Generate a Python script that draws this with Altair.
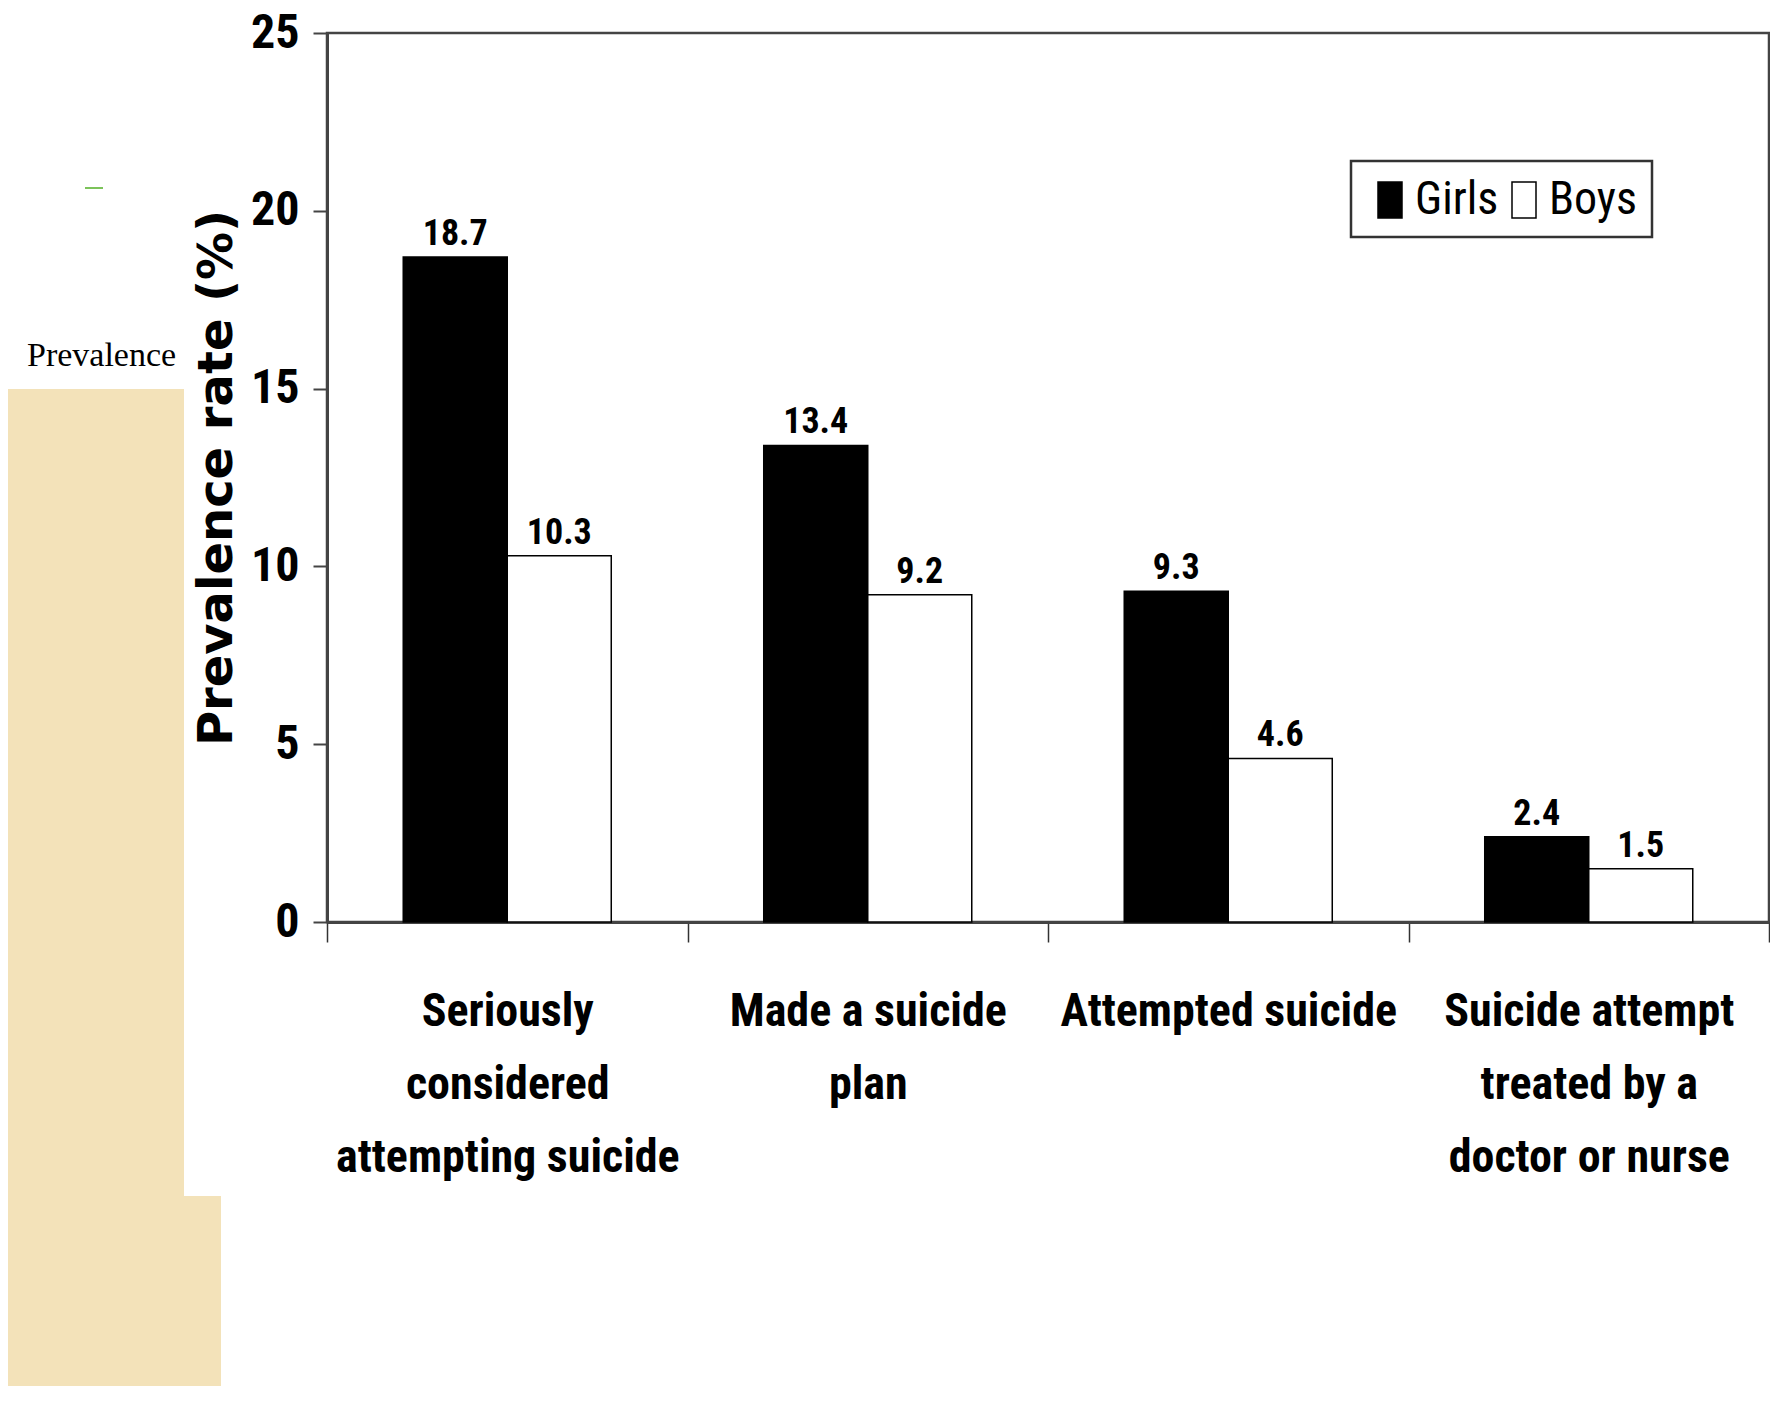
import altair as alt
import pandas as pd

categories = [
    "Seriously\nconsidered\nattempting suicide",
    "Made a suicide\nplan",
    "Attempted suicide",
    "Suicide attempt\ntreated by a\ndoctor or nurse",
]
groups = ["Girls", "Boys"]
girls = [18.7, 13.4, 9.3, 2.4]
boys = [10.3, 9.2, 4.6, 1.5]
y_ticks = [0, 5, 10, 15, 20, 25]

rows = []
for c, g, b in zip(categories, girls, boys):
    rows.append({"cat": c, "sex": "Girls", "val": g})
    rows.append({"cat": c, "sex": "Boys", "val": b})
df = pd.DataFrame(rows)

NARROW = "Liberation Sans Narrow, Roboto Condensed, DejaVu Sans Condensed, Arial Narrow, sans-serif"
W, H = 1442, 889

x_enc = alt.X(
    "cat:N",
    sort=categories,
    scale=alt.Scale(paddingInner=0, paddingOuter=0),
    axis=alt.Axis(
        title=None,
        labelAngle=0,
        labelExpr="split(datum.label, '\\n')",
        labelFont=NARROW,
        labelFontSize=46,
        labelFontWeight="bold",
        labelColor="black",
        labelLineHeight=73,
        labelPadding=47,
        labelLimit=0,
        labelOverlap=False,
        labelBound=False,
        tickBand="extent",
        tickSize=20,
        tickColor="#333",
        tickWidth=1.5,
        domainColor="#444",
        domainWidth=3,
    ),
)
xo_enc = alt.XOffset("sex:N", sort=groups, scale=alt.Scale(paddingInner=0, paddingOuter=0.733))
y_enc = alt.Y(
    "val:Q",
    scale=alt.Scale(domain=[0, 25], nice=False),
    axis=alt.Axis(
        values=y_ticks,
        title="Prevalence rate (%)",
        titleFont="DejaVu Sans",
        titleFontSize=48,
        titleFontWeight="bold",
        titleColor="black",
        titleX=-110,
        titleY=H / 2,
        titleAngle=270,
        titleAlign="center",
        titleBaseline="middle",
        labelFont=NARROW,
        labelFontSize=48,
        labelFontWeight="bold",
        labelColor="black",
        labelPadding=14,
        tickSize=14,
        tickColor="#444",
        tickWidth=2,
        domainColor="#444",
        domainWidth=3,
        grid=False,
    ),
)

bars = alt.Chart(df).mark_bar(stroke="black", strokeWidth=1.5).encode(
    x=x_enc,
    xOffset=xo_enc,
    y=y_enc,
    color=alt.Color(
        "sex:N",
        sort=groups,
        scale=alt.Scale(domain=groups, range=["black", "white"]),
        legend=alt.Legend(
            title=None,
            orient="none",
            legendX=1024,
            legendY=128,
            direction="horizontal",
            symbolType="M-0.5,-0.75L0.5,-0.75L0.5,0.75L-0.5,0.75Z",
            symbolSize=2304,
            symbolStrokeColor="black",
            symbolStrokeWidth=1.5,
            labelFont=NARROW,
            labelFontSize=46,
            labelColor="black",
            labelOffset=0,
            columnPadding=0,
            padding=14,
            strokeColor="#333",
            fillColor="white",
        ),
    ),
)

labels = alt.Chart(df).mark_text(
    baseline="bottom", dy=-4, font=NARROW, fontSize=36, fontWeight="bold", color="black"
).encode(
    x=alt.X("cat:N", sort=categories),
    xOffset=alt.XOffset("sex:N", sort=groups),
    y=alt.Y("val:Q"),
    text=alt.Text("val:Q", format=".1f"),
)

one = pd.DataFrame({"k": [0]})
deco_fill = "#f3e2b9"
rect1 = alt.Chart(one).mark_rect(color=deco_fill).encode(
    x=alt.value(-319), x2=alt.value(-143), y=alt.value(356), y2=alt.value(1353)
)
rect2 = alt.Chart(one).mark_rect(color=deco_fill).encode(
    x=alt.value(-319), x2=alt.value(-106), y=alt.value(1163), y2=alt.value(1353)
)
prev_txt = alt.Chart(one).mark_text(
    text="Prevalence", align="left", baseline="middle", font="Liberation Serif", fontSize=34, color="black"
).encode(x=alt.value(-300), y=alt.value(323))
dash = alt.Chart(one).mark_rule(color="#7cc35a", strokeWidth=2).encode(
    x=alt.value(-242), x2=alt.value(-224), y=alt.value(155)
)

chart = (
    alt.layer(rect1, rect2, prev_txt, dash, bars, labels)
    .properties(
        width=W,
        height=H,
        background="white",
        padding={"top": 1, "left": 0, "right": 0, "bottom": 0},
    )
    .configure_view(stroke="#444", strokeWidth=2.5)
    .configure_legend(strokeWidth=2.5)
)

chart.save("out.html", embed_options={"renderer": "svg", "actions": False})
